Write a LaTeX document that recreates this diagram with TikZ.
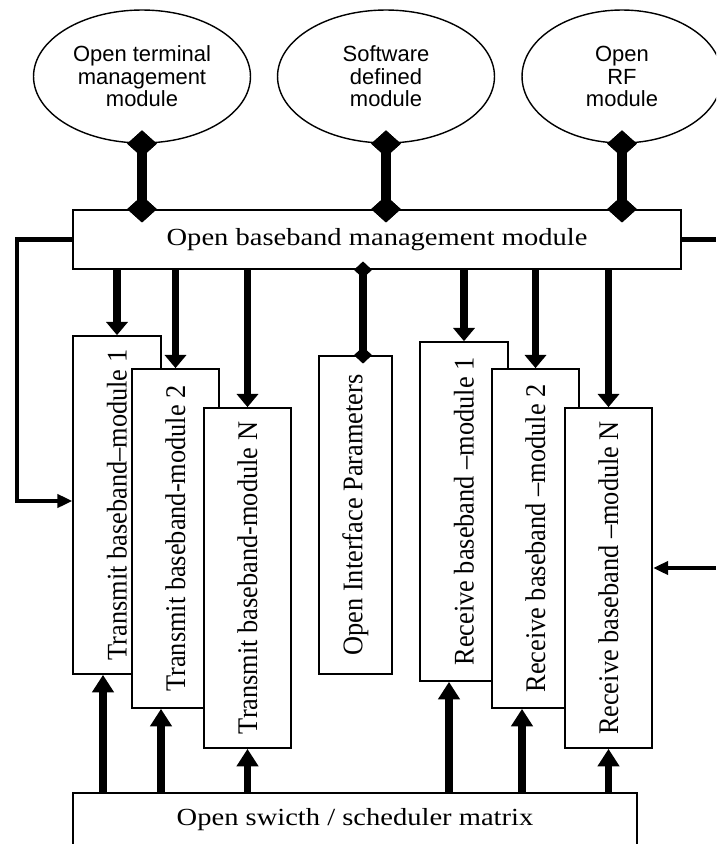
\documentclass[tikz,border=0pt]{standalone}
\usepackage{fontspec}
\setmainfont{Liberation Serif}
\newfontfamily\ovalfont{Liberation Sans}
\usetikzlibrary{shapes.geometric,arrows.meta}

% horizontal and vertical labels in the serif face, slightly widened
\newcommand{\hlabel}[1]{\scalebox{1.16}[1]{\fontsize{14}{16}\selectfont #1}}
\newcommand{\vlabel}[1]{\rotatebox{90}{\scalebox{1}[1.08]{\fontsize{15}{17}\selectfont #1}}}

\tikzset{
  box/.style={draw, line width=1pt, fill=white, inner sep=0pt},
  modbox/.style={box, minimum width=1.75cm},
  oval/.style={draw, ellipse, line width=0.8pt, minimum height=2.66cm,
    align=center, inner sep=0pt, font=\ovalfont\fontsize{12.5}{12.8}\selectfont},
  bigdia/.style={diamond, fill=black, inner sep=0pt, minimum width=17pt, minimum height=15.3pt},
  smalldia/.style={diamond, fill=black, inner sep=0pt, minimum width=10.2pt, minimum height=9.6pt},
  link/.style={line width=6.2pt},
  thinlink/.style={line width=4pt},
  down/.style={line width=4pt, -{Triangle[width=12pt,length=7.5pt]}},
  up/.style={line width=4pt, -{Triangle[width=12pt,length=10pt]}},
  feed/.style={line width=2.6pt, -{Triangle[width=7.4pt,length=8.5pt]}},
  plain/.style={line width=2.6pt},
}

\begin{document}
\begin{tikzpicture}[x=0.02cm, y=-0.02cm]
\useasboundingbox (0,0) rectangle (716,844);
\clip (0,0) rectangle (716,844);

% upper modules
\node[oval, minimum width=4.34cm] (e1) at (142,76.5) {Open terminal\\management\\module};
\node[oval, minimum width=4.34cm] (e2) at (386,76.5) {Software\\defined\\module};
\node[oval, minimum width=4.0cm] (e3) at (622,76.5) {Open\\RF\\module};

% baseband management
\node[box, minimum width=12.16cm, minimum height=1.18cm] (top) at (377,239.5)
  {\hlabel{Open baseband management module}};

% transmit modules
\node[modbox, minimum height=6.76cm] (t1) at (117,505) {\vlabel{Transmit baseband–module 1}};
\node[modbox, minimum height=6.78cm] (t2) at (175.5,538.5) {\vlabel{Transmit baseband-module 2}};
\node[modbox, minimum height=6.8cm] (tN) at (247.5,578) {\vlabel{Transmit baseband-module N}};

% interface parameters
\node[box, minimum width=1.46cm, minimum height=6.36cm] (oip) at (355.5,515)
  {\vlabel{Open Interface Parameters}};

% receive modules
\node[modbox, minimum height=6.78cm] (r1) at (464,511.5) {\vlabel{Receive baseband –module 1}};
\node[modbox, minimum height=6.78cm] (r2) at (535.5,538.5) {\vlabel{Receive baseband –module 2}};
\node[modbox, minimum height=6.8cm] (rN) at (608.5,578) {\vlabel{Receive baseband –module N}};

% switch / scheduler
\node[box, minimum width=11.28cm, minimum height=1.08cm] (bot) at (355,820)
  {\hlabel{Open swicth / scheduler matrix}};

% links from the upper modules
\foreach \e in {e1,e2,e3}{
  \node[bigdia] (\e a) at (\e.south) {};
  \node[bigdia] (\e b) at (\e.south |- top.north) {};
}
\foreach \e in {e1,e2,e3}{
  \draw[link] (\e a.center) -- (\e b.center);
  \node[bigdia] at (\e a) {};
  \node[bigdia] at (\e b) {};
}

% link to the interface parameters
\coordinate (oix) at ([xshift=0.15cm]oip.north);
\node[smalldia] (oa) at (oix |- top.south) {};
\node[smalldia] (ob) at (oix) {};
\draw[thinlink] (oa.center) -- (ob.center);
\node[smalldia] at (oa) {};
\node[smalldia] at (ob) {};

% downward arrows
\foreach \m in {t1,t2,tN,r1,r2,rN}
  \draw[down] (top.south -| \m.north) -- (\m.north);

% upward arrows
\coordinate (u1) at ([xshift=-0.28cm]t1.south);
\coordinate (u2) at ([xshift=-0.29cm]t2.south);
\coordinate (u3) at (tN.south);
\coordinate (u4) at ([xshift=-0.3cm]r1.south);
\coordinate (u5) at ([xshift=-0.27cm]r2.south);
\coordinate (u6) at (rN.south);
\foreach \u in {u1,u2,u3,u4,u5,u6}
  \draw[up] (bot.north -| \u) -- (\u);

% feedback on the left
\coordinate (fb) at (17,501);
\draw[feed] (top.west) -| (fb) -- (fb -| t1.west);

% lines leaving on the right
\coordinate (rs) at (716,239.5);
\draw[plain] (top.east) -- (rs);
\coordinate (ri) at (716,568);
\draw[feed] (ri) -- (ri -| rN.east);
\end{tikzpicture}
\end{document}
